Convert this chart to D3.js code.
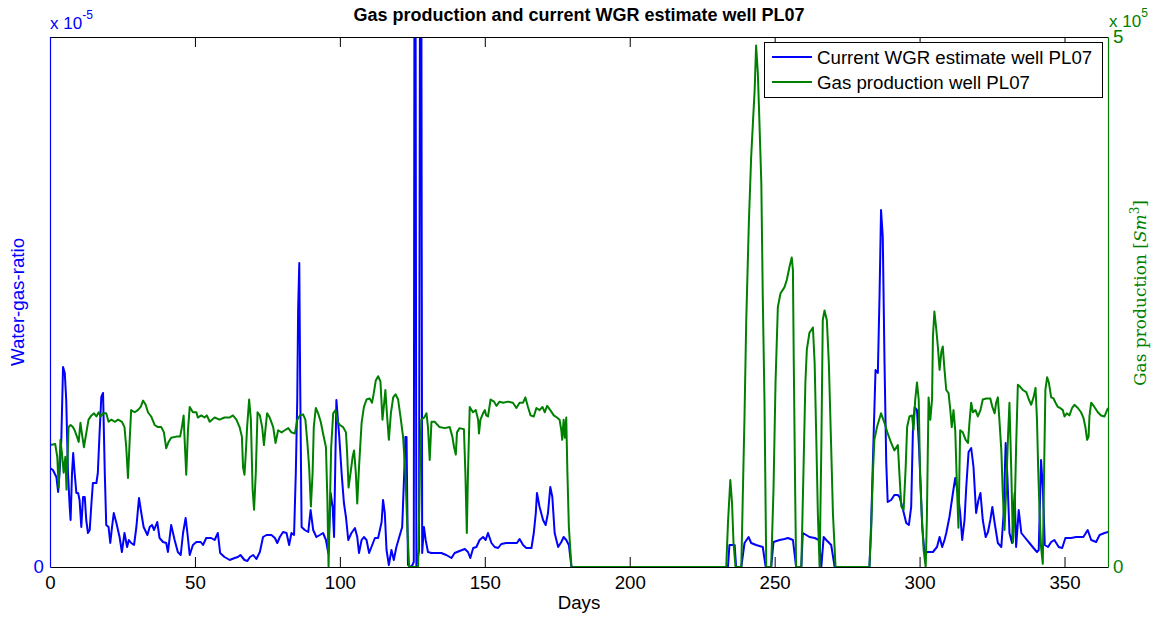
<!DOCTYPE html>
<html><head><meta charset="utf-8">
<script src="https://cdn.jsdelivr.net/npm/d3@7"></script>
<style>
body{margin:0;background:#fff}
svg{display:block}
text{font-family:"Liberation Sans",Arial,Helvetica,sans-serif}
</style>
</head><body>
<svg id="chart" width="1158" height="620"></svg>
<script>
// ---------- data ----------
const chartTitle = "Gas production and current WGR estimate well PL07";
const xLabel = "Days";
const leftLabel = "Water-gas-ratio";
const seriesNames = ["Current WGR estimate well PL07", "Gas production well PL07"];
const xTicks = [0, 50, 100, 150, 200, 250, 300, 350];
const leftTicks = [0];      // x 10^-5
const rightTicks = [0, 5];  // x 10^5

// WGR in units of 1e-5
const wgrDays = [
0,1.0,2.2,2.8,3.3,3.9,4.5,5.1,5.6,6.2,6.8,7.1,7.6,8.0,8.5,9.1,9.7,10.2,10.8,11.4,
12.0,12.5,13.1,13.7,14.3,14.8,16.0,16.5,17.1,17.7,18.3,18.9,19.4,20.2,20.8,21.4,22.0,22.9,24.0,24.8,
25.7,26.6,27.2,28.0,29.0,29.8,30.7,31.5,32.3,33.6,34.4,35.2,35.9,37.0,37.8,39.0,40.1,40.7,41.8,43.0,
44.1,45.1,45.9,46.8,47.4,48.2,49.3,50.5,52.0,52.8,53.9,55.6,56.8,57.9,58.7,60.2,62.0,63.7,64.8,65.7,
67.1,68.1,69.0,70.1,71.2,72.4,73.5,74.7,76.4,77.6,78.4,79.3,80.4,81.6,82.5,83.3,84.2,84.8,85.3,85.6,
86.0,86.3,86.8,87.9,89.1,89.9,90.8,91.9,93.1,94.2,95.2,96.0,96.8,97.5,98.0,98.8,99.8,100.6,101.4,102.1,
102.9,104.0,105.2,106.0,106.6,107.5,108.3,109.2,110.1,110.9,112.1,113.2,114.4,114.9,115.5,116.1,116.9,117.8,118.6,119.5,
120.4,121.5,122.2,122.6,123.0,123.5,124.7,125.5,125.9,126.4,127.3,127.9,128.4,129.0,129.6,130.4,131.6,133.3,135.0,136.7,
138.5,139.6,141.3,143.1,144.2,145.0,146.0,147.1,148.2,149.4,150.3,151.1,152.3,153.4,154.6,155.7,157.4,159.7,161.1,162.0,
163.2,164.3,166.1,166.9,167.6,168.0,168.9,170.1,171.0,171.8,172.6,173.3,174.1,175.3,176.4,177.2,178.1,179.0,179.9,233.9,
234.4,236.2,236.7,238.5,239.6,241.0,241.9,243.6,245.9,246.9,248.8,249.6,251.7,253.4,254.6,256.3,257.4,259.2,259.7,260.9,
262.0,263.8,265.3,266.1,266.9,267.8,269.5,270.7,282.7,283.3,284.1,284.8,285.6,286.2,286.7,287.3,287.9,288.5,289.0,290.2,
291.3,292.5,293.1,294.3,295.4,296.3,297.1,297.7,298.3,299.1,299.8,300.3,300.9,301.7,302.9,304.6,306.0,306.9,307.8,308.6,
309.2,310.3,311.5,312.3,313.2,314.0,314.7,315.5,316.1,316.9,317.8,318.6,319.5,320.3,321.0,321.8,322.8,323.6,324.4,325.1,
325.9,327.0,328.2,329.0,329.7,330.3,331.0,331.9,332.8,333.3,334.2,335.1,336.2,337.9,339.3,340.5,341.1,341.9,342.5,343.2,
344.3,345.4,346.5,348.0,349.2,350.3,352.3,354.0,356.5,358.0,359.2,360.9,362.1,363.8,365];
const wgrValues = [
0.099,0.097,0.090,0.075,0.094,0.127,0.200,0.194,0.167,0.094,0.060,0.047,0.094,0.114,0.094,0.074,0.074,0.067,0.040,0.070,
0.070,0.047,0.034,0.037,0.064,0.084,0.084,0.094,0.134,0.170,0.174,0.094,0.042,0.040,0.024,0.040,0.054,0.044,0.030,0.015,
0.034,0.020,0.027,0.024,0.022,0.040,0.069,0.054,0.040,0.032,0.040,0.042,0.037,0.045,0.029,0.025,0.024,0.015,0.042,0.027,
0.015,0.012,0.034,0.049,0.034,0.012,0.022,0.025,0.025,0.022,0.029,0.029,0.027,0.034,0.014,0.010,0.007,0.009,0.010,0.012,
0.007,0.006,0.010,0.012,0.008,0.015,0.030,0.032,0.032,0.029,0.024,0.030,0.035,0.034,0.022,0.034,0.032,0.094,0.167,0.257,
0.304,0.187,0.040,0.037,0.035,0.057,0.037,0.030,0.032,0.034,0.027,0.014,0.074,0.060,0.030,0.167,0.130,0.094,0.064,0.050,
0.027,0.034,0.039,0.030,0.014,0.027,0.030,0.027,0.014,0.020,0.029,0.029,0.045,0.067,0.054,0.017,0.002,0.017,0.007,0.020,
0.029,0.040,0.094,0.130,0.130,0.002,0,0.005,1.0,0,0.017,1.0,0.014,0.040,0.027,0.015,0.014,0.014,0.014,0.012,
0.009,0.014,0.016,0.018,0.015,0.009,0.019,0.020,0.027,0.030,0.027,0.034,0.024,0.020,0.019,0.023,0.024,0.024,0.024,0.028,
0.022,0.019,0.019,0.034,0.054,0.074,0.060,0.047,0.042,0.054,0.080,0.070,0.034,0.020,0.025,0.030,0.027,0.022,0,0,
0.022,0.022,0,0,0.024,0.030,0.024,0.022,0.020,0,0,0.025,0.027,0.028,0.029,0.027,0,0,0.034,0.032,
0.030,0.029,0.027,0,0.030,0.027,0.022,0,0,0.044,0.127,0.197,0.194,0.274,0.357,0.330,0.204,0.104,0.065,0.067,
0.072,0.072,0.070,0.057,0.044,0.042,0.060,0.137,0.160,0.157,0.120,0.087,0.040,0.014,0.015,0.015,0.020,0.030,0.020,0.027,
0.034,0.050,0.074,0.089,0.074,0.054,0.027,0.047,0.080,0.115,0.119,0.100,0.054,0.067,0.074,0.047,0.030,0.035,0.047,0.060,
0.044,0.024,0.020,0.054,0.124,0.090,0.034,0.024,0.074,0.020,0.057,0.034,0.030,0.024,0.019,0.015,0.017,0.107,0.080,0.022,
0.020,0.025,0.027,0.020,0.019,0.029,0.029,0.030,0.030,0.037,0.027,0.025,0.032,0.034,0.035];

// Gas production in units of 1e5 Sm^3
const gasDays = [
0,1.8,2.5,3.0,3.6,4.1,4.7,5.3,5.7,6.4,7.1,7.9,8.5,9.3,9.9,10.5,11.0,11.7,12.5,13.3,
14.3,15.2,16.0,16.8,17.5,18.3,19.4,20.2,21.2,22.3,23.5,24.8,25.7,26.3,26.9,27.5,28.0,29.2,30.3,31.3,
32.1,33.0,33.8,34.9,36.1,37.2,38.4,39.3,40.1,40.9,41.8,43.6,44.9,45.5,46.1,46.4,47.0,47.6,48.2,49.3,
50.5,51.0,52.2,53.3,54.1,55.1,56.8,58.5,60.2,62.0,63.1,64.3,65.4,66.2,66.6,67.1,67.6,68.0,68.7,69.3,
69.9,70.4,71.0,71.6,72.4,73.2,73.8,74.4,74.9,75.8,77.0,77.8,78.7,79.9,81.0,82.2,83.3,84.5,85.3,86.2,
87.3,88.1,88.8,89.4,90.0,90.6,91.0,91.7,92.5,93.4,94.2,95.2,95.7,96.1,96.5,97.0,97.7,98.5,99.2,100.0,
101.1,102.1,102.5,103.0,103.7,104.4,104.9,105.5,106.0,106.6,107.5,108.3,109.2,110.3,111.1,111.7,112.4,113.2,114.0,114.7,
115.3,115.7,116.3,116.9,117.6,118.4,119.2,120.1,120.9,121.8,122.6,123.3,123.9,127.0,127.6,128.1,129.1,129.9,130.4,131.0,
131.6,132.7,134.4,136.2,137.9,138.8,139.4,140.0,140.4,141.3,142.8,143.3,143.8,144.2,144.8,145.9,146.9,147.7,148.0,148.5,
149.4,150.0,150.5,151.1,152.0,153.2,154.0,155.1,156.3,158.0,159.7,160.9,162.0,163.2,164.0,164.9,165.8,166.9,167.8,168.9,
169.9,170.7,171.5,172.6,173.8,174.9,175.8,176.4,176.7,177.2,177.6,178.1,178.5,179.0,179.9,233.3,233.9,234.7,235.3,235.8,
236.5,238.5,239.0,239.6,240.2,241.1,241.9,242.5,243.1,243.6,244.2,244.8,245.4,245.9,246.5,247.1,248.8,249.6,250.3,251.1,
252.0,253.4,254.2,255.1,255.9,256.3,256.6,257.1,257.4,259.2,260.0,260.6,261.1,262.0,263.2,263.8,264.3,264.9,265.5,266.1,
266.6,267.2,268.0,268.7,269.5,270.1,271.0,282.7,283.3,283.9,284.4,285.3,286.7,287.9,289.0,290.2,291.3,292.5,293.1,293.7,
294.5,295.2,295.7,296.5,297.4,297.9,298.5,299.1,299.7,300.2,300.8,301.4,302.1,302.5,303.1,303.7,304.3,304.6,305.1,305.7,
306.3,306.9,307.5,308.0,308.6,309.2,310.0,310.6,311.1,311.7,312.3,312.9,313.4,314.0,314.9,315.9,316.7,317.2,317.8,318.4,
319.3,320.1,321.0,321.8,323.0,324.4,325.1,325.9,326.4,327.0,327.6,328.2,328.7,329.3,329.9,330.5,331.0,331.6,332.2,332.8,
333.3,333.9,334.7,335.6,336.8,337.7,338.5,339.3,340.0,340.5,340.9,341.4,341.9,342.5,343.0,343.4,344.0,344.6,345.4,346.2,
346.9,347.7,348.5,349.4,350.0,350.8,351.7,352.6,353.4,354.6,355.7,356.5,357.2,357.8,358.3,358.6,359.2,360.3,361.5,362.6,
363.8,364.4,365];
const gasValues = [
1.15,1.16,1.04,0.75,1.20,1.08,0.89,1.04,0.73,1.32,1.34,1.32,1.29,1.23,1.18,1.36,1.26,1.13,1.26,1.39,
1.43,1.45,1.42,1.46,1.42,1.45,1.45,1.37,1.39,1.37,1.39,1.37,1.32,1.13,0.84,1.20,1.48,1.46,1.48,1.51,
1.57,1.53,1.46,1.42,1.34,1.32,1.32,1.27,1.12,1.18,1.22,1.23,1.23,1.32,1.43,1.23,0.87,1.29,1.51,1.46,
1.46,1.41,1.43,1.41,1.43,1.37,1.41,1.39,1.41,1.41,1.43,1.39,1.32,1.23,0.94,0.87,1.10,1.32,1.58,1.39,
0.73,0.54,0.89,1.46,1.43,1.32,1.15,1.32,1.45,1.41,1.32,1.17,1.29,1.27,1.29,1.31,1.27,1.26,1.39,1.43,
1.44,1.39,1.17,0.94,0.57,0.89,1.32,1.50,1.45,1.37,1.26,1.13,0.63,0,0.51,1.13,1.45,1.48,1.37,1.34,
1.32,1.27,1.08,0.75,0.89,1.04,1.10,0.89,0.60,0.94,1.36,1.51,1.58,1.59,1.55,1.64,1.76,1.80,1.75,1.39,
1.55,1.67,1.42,1.20,1.45,1.60,1.63,1.58,1.42,1.23,0.89,0.35,0,0,0.89,1.39,1.41,1.45,1.32,1.01,
1.37,1.37,1.32,1.31,1.32,1.23,1.13,1.06,1.27,1.31,1.30,0.89,0.32,0.89,1.51,1.46,1.48,1.39,1.26,1.39,
1.45,1.48,1.43,1.42,1.58,1.56,1.52,1.56,1.55,1.56,1.55,1.50,1.55,1.55,1.60,1.51,1.43,1.42,1.50,1.48,
1.51,1.46,1.52,1.48,1.43,1.41,1.39,1.29,1.20,1.39,1.22,1.41,0.89,0.38,0,0,0.42,0.82,0.60,0.23,
0,0,0.66,1.42,2.33,3.25,3.87,4.19,4.50,4.92,4.66,4.15,3.62,2.55,1.55,0,0,0.73,1.74,2.45,
2.58,2.64,2.71,2.83,2.92,2.80,1.92,0.66,0,0,0.98,1.74,2.05,2.21,2.26,1.92,1.29,0.51,0,1.13,
2.33,2.42,2.33,1.92,1.13,0.51,0,0,0.35,0.89,1.20,1.32,1.45,1.36,1.26,1.17,1.10,1.15,0.85,0.57,
0.54,0.94,1.32,1.42,1.43,1.29,1.58,1.74,1.58,0.82,0.47,0.16,0,0.44,1.60,1.39,1.58,2.17,2.41,2.26,
2.08,1.86,2.03,2.08,1.86,1.67,1.64,1.48,1.32,1.48,1.29,0.75,0.37,1.29,1.27,1.20,1.17,1.36,1.55,1.46,
1.48,1.42,1.48,1.58,1.59,1.59,1.51,1.45,1.55,1.60,1.36,1.10,0.70,0.35,0.75,1.23,1.55,0.94,0.23,0.51,
1.13,1.72,1.70,1.67,1.65,1.58,1.53,1.60,1.69,1.39,0.94,0.51,0.19,0.03,0.98,1.67,1.79,1.74,1.60,1.59,
1.55,1.51,1.50,1.48,1.42,1.45,1.43,1.50,1.53,1.50,1.46,1.41,1.32,1.20,1.23,1.42,1.55,1.51,1.46,1.43,
1.42,1.46,1.50];

// ---------- drawing ----------
const W = 1158, H = 620;
const M = {left: 50, right: 1108, top: 37, bottom: 567};
const blue = "#0000ff", green = "#008000";
const FS = "18.7px";

const svg = d3.select("#chart");
svg.append("rect").attr("width", W).attr("height", H).attr("fill", "#fff");

const x = d3.scaleLinear().domain([0, 365]).range([M.left, M.right]);
const yW = d3.scaleLinear().domain([0, 0.53]).range([M.bottom, M.top]);
const yG = d3.scaleLinear().domain([0, 5]).range([M.bottom, M.top]);

svg.append("defs").append("clipPath").attr("id", "plotclip")
  .append("rect").attr("x", M.left).attr("y", M.top)
  .attr("width", M.right - M.left).attr("height", M.bottom - M.top);

const plot = svg.append("g").attr("clip-path", "url(#plotclip)");

const wgrData = wgrDays.map((d, i) => [d, wgrValues[i]]);
const gasData = gasDays.map((d, i) => [d, gasValues[i]]);

plot.append("path").datum(wgrData)
  .attr("fill", "none").attr("stroke", blue).attr("stroke-width", 2)
  .attr("stroke-linejoin", "round")
  .attr("d", d3.line().x(d => x(d[0])).y(d => yW(d[1])));

plot.append("path").datum(gasData)
  .attr("fill", "none").attr("stroke", green).attr("stroke-width", 2)
  .attr("stroke-linejoin", "round")
  .attr("d", d3.line().x(d => x(d[0])).y(d => yG(d[1])));

// axes
const xb = svg.append("g").attr("transform", `translate(0,${M.bottom})`)
  .call(d3.axisBottom(x).tickValues(xTicks).tickSizeInner(-10).tickSizeOuter(0).tickPadding(9));
const xt = svg.append("g").attr("transform", `translate(0,${M.top})`)
  .call(d3.axisTop(x).tickValues(xTicks).tickSizeInner(-10).tickSizeOuter(0).tickFormat(""));
[xb, xt].forEach(g => {
  g.select(".domain").attr("stroke", "#000").attr("stroke-width", 1.2);
  g.selectAll(".tick line").attr("stroke", "#000");
  g.selectAll("text").attr("fill", "#000").style("font-size", FS)
    .style("font-family", '"Liberation Sans",Arial,sans-serif');
});

const yl = svg.append("g").attr("transform", `translate(${M.left},0)`)
  .call(d3.axisLeft(yW).tickValues(leftTicks).tickSize(0).tickPadding(6).tickFormat(d3.format("d")));
yl.select(".domain").attr("stroke", blue).attr("stroke-width", 1.2);
yl.selectAll("text").attr("fill", blue).style("font-size", FS)
  .style("font-family", '"Liberation Sans",Arial,sans-serif');

const yr = svg.append("g").attr("transform", `translate(${M.right},0)`)
  .call(d3.axisRight(yG).tickValues(rightTicks).tickSize(0).tickPadding(5).tickFormat(d3.format("d")));
yr.select(".domain").attr("stroke", green).attr("stroke-width", 1.2);
yr.selectAll("text").attr("fill", green).style("font-size", FS)
  .style("font-family", '"Liberation Sans",Arial,sans-serif');

// exponent labels
function expLabel(xp, yp, color, exp) {
  const t = svg.append("text").attr("x", xp).attr("y", yp).attr("fill", color)
    .style("font-size", "17px");
  t.append("tspan").text("x 10");
  t.append("tspan").attr("dy", -10).style("font-size", "12px").text(exp);
}
expLabel(50, 29, blue, "-5");
expLabel(1109, 27, green, "5");

// title
svg.append("text").attr("x", 579).attr("y", 21).attr("text-anchor", "middle")
  .style("font-size", "18px").style("font-weight", "bold").attr("fill", "#000")
  .text(chartTitle);

// x label
svg.append("text").attr("x", 579).attr("y", 609).attr("text-anchor", "middle")
  .style("font-size", FS).attr("fill", "#000").text(xLabel);

// left label
svg.append("text").attr("transform", "translate(24,302) rotate(-90)")
  .attr("text-anchor", "middle").style("font-size", FS).attr("fill", blue)
  .text(leftLabel);

// right label (LaTeX-like serif)
const rl = svg.append("text").attr("transform", "translate(1146,293) rotate(-90)")
  .attr("text-anchor", "middle").attr("fill", green)
  .style("font-family", '"DejaVu Serif","Liberation Serif",serif').style("font-size", "17px");
rl.append("tspan").text("Gas production [");
rl.append("tspan").style("font-style", "italic").text("Sm");
rl.append("tspan").attr("dy", -7).style("font-size", "12px").text("3");
rl.append("tspan").attr("dy", 7).text("]");

// legend
const lg = svg.append("g");
lg.append("rect").attr("x", 764.5).attr("y", 42.5).attr("width", 338).attr("height", 55)
  .attr("fill", "#fff").attr("stroke", "#000").attr("stroke-width", 1);
const legendColors = [blue, green];
seriesNames.forEach((name, i) => {
  const yy = 57 + i * 25;
  lg.append("line").attr("x1", 772).attr("x2", 812).attr("y1", yy).attr("y2", yy)
    .attr("stroke", legendColors[i]).attr("stroke-width", 2);
  lg.append("text").attr("x", 817).attr("y", yy + 7).style("font-size", FS)
    .attr("fill", "#000").text(name);
});
</script>
</body></html>
